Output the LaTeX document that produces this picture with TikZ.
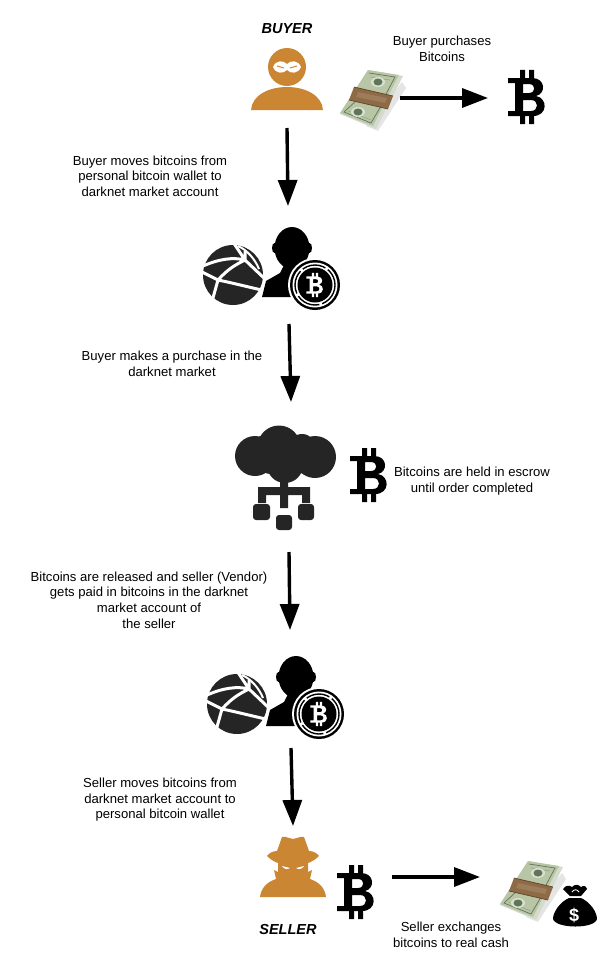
\documentclass[tikz,border=0pt]{standalone}
\usepackage{fontspec}
\setmainfont{Liberation Sans}
\usetikzlibrary{arrows.meta}

\definecolor{iconorange}{HTML}{CB8633}
\definecolor{icondark}{HTML}{252525}
\definecolor{billgreen}{HTML}{B9C6A6}
\definecolor{billdark}{HTML}{5F7458}
\definecolor{bandbrown}{HTML}{8E6A45}

\tikzset{
  caption/.style={align=center, inner sep=0pt, font=\fontsize{13.1}{15.6}\selectfont},
  rolename/.style={inner sep=0pt, font=\fontsize{14.5}{15}\selectfont\bfseries\itshape},
  flow/.style={line width=3.4pt, -{Triangle[length=26pt,width=19pt]}},
  btcmark/.pic={
    \path [pic actions, even odd rule] (-18,-19) -- (6,-19) .. controls (20,-19) and (20,-3) .. (10,-1)
      .. controls (22,1) and (22,19) .. (7,19) -- (-18,19) -- (-18,14) -- (-11,14) -- (-11,-14) -- (-18,-14) -- cycle
      (-3,-13) -- (3,-13) .. controls (10,-13) and (10,-4) .. (3,-4) -- (-3,-4) -- cycle
      (-3,3) -- (5,3) .. controls (13,3) and (13,14) .. (5,14) -- (-3,14) -- cycle;
    \path [pic actions] (-6,-27) rectangle (-1,-18) (3,-27) rectangle (8,-18) (-6,18) rectangle (-1,27) (3,18) rectangle (8,27);
  },
  cashstack/.pic={
    \fill [black!10] (-6,28) -- (30,-16) -- (34,-10) -- (6,33) -- cycle;
    \fill [black!8!billgreen!50!white] (-4,-28) -- (31,-22) -- (4,31) -- (-32,16) -- cycle;
    \fill [billgreen] (-4,-28) -- (27,-23) -- (1,28) -- (-32,15) -- cycle;
    \draw [billdark, line width=.7pt] (-3,-25) -- (23,-21) -- (14,-4) (-15,2) -- (-28,14) -- (-1,25) -- (9,8);
    \draw [billdark!70!white, line width=.5pt] (-1,-21) -- (18,-18) (-24,13) -- (-1,22);
    \fill [white!45!billgreen] (6,-16) ellipse (7 and 5) (-14,14) ellipse (7 and 5);
    \fill [billdark] (6,-16) ellipse (4.5 and 3.5) (-14,14) ellipse (4.5 and 3.5);
    \fill [bandbrown] (-18,-11) -- (21,-2) -- (16,11) -- (-23,2) -- cycle;
    \fill [bandbrown!88!white] (-14,-6) -- (15,0) -- (13,5) -- (-16,-1) -- cycle;
    \draw [black!35!bandbrown, line width=.7pt] (-18,-11) -- (21,-2) (16,11) -- (-23,2);
  },
  buyericon/.pic={
    \fill [iconorange] (0,-8) circle (19);
    \fill [iconorange] (-36,35) .. controls (-35,20) and (-18,12) .. (0,12) .. controls (18,12) and (35,20) .. (36,35) -- cycle;
    \fill [white] (-14,-8) .. controls (-11,-15) and (-4,-15) .. (0,-11) .. controls (4,-15) and (11,-15) .. (14,-8)
      .. controls (11,-1) and (4,-1) .. (0,-5) .. controls (-4,-1) and (-11,-1) .. (-14,-8) -- cycle;
    \draw [iconorange, line width=1pt] (-10,-9) -- (-3,-7) (3,-7) -- (10,-9);
  },
  sellericon/.pic={
    \fill [iconorange] (-16,-19) -- (-11,-33) .. controls (-6,-34) and (-4,-31) .. (0,-31) .. controls (4,-31) and (6,-34) .. (11,-33) -- (16,-19)
      .. controls (20,-19) and (24,-17) .. (26,-14) .. controls (22,-10) and (18,-8) .. (15,-7) -- (15,2) -- (19,0) -- (17,9)
      .. controls (26,12) and (32,18) .. (33,27) -- (-33,27) .. controls (-32,18) and (-26,12) .. (-17,9) -- (-19,0) -- (-15,2) -- (-15,-7)
      .. controls (-18,-8) and (-22,-10) .. (-26,-14) .. controls (-24,-17) and (-20,-19) .. (-16,-19) -- cycle;
    \fill [white] (-11,-4) -- (-3,-2) .. controls (-6,0) and (-9,-1) .. (-11,-4) -- cycle
      (11,-4) -- (3,-2) .. controls (6,0) and (9,-1) .. (11,-4) -- cycle;
  },
  marketicon/.pic={
    \fill [icondark] (0,0) circle (30);
    \draw [white, line width=3pt] (-15,5) .. controls (-5,-6) and (2,-10) .. (12,-15)
      (-15,5) -- (-33,-4) (-15,5) -- (-22,30) (-15,5) .. controls (0,8) and (15,12) .. (33,16)
      (12,-15) .. controls (0,-18) and (-14,-16) .. (-30,-9) (12,-15) -- (0,-33) (12,-15) -- (32,4)
      (12,-15) -- (12,-24);
    \draw [white, line width=2pt] (5,-29) .. controls (14,-25) and (22,-16) .. (26,-6);
    \fill [black] (29,22) -- (33,6) -- (47,-2) -- (51,-10) -- (67,-10) -- (72,-2) -- (85,6) -- (85,22) -- cycle;
    \fill [black] (59,-27) ellipse (17.5 and 21);
    \fill [black] (41.5,-27) ellipse (2.5 and 5) (76.5,-27) ellipse (2.5 and 5);
    \fill [white] (82,10) circle (27);
    \fill [black] (82,10) circle (25);
    \fill [white] (82,10) circle (22.5);
    \draw [black, line width=1.4pt, dash pattern=on 24pt off 3pt] (82,10) circle (20);
    \fill [black] (82,10) circle (17.5);
    \pic [fill=white, scale=.45] at (81.5,10) {btcmark};
  },
  cloudicon/.pic={
    \fill [icondark] (-3,-23) circle (21.5) (-27,-14) circle (20) (33,-13) circle (21) (20,-22) circle (14) (-20,-18) circle (16) (3,-5) circle (18) (-12,-8) circle (12) (16,-8) circle (12);
    \fill [icondark] (-2,5) rectangle (6,38) (-24,17) rectangle (28,25) (-24,17) rectangle (-16,33) (20,17) rectangle (28,33);
    \fill [icondark, rounded corners=3pt] (-29,34) rectangle (-12,50) (16,34) rectangle (32,50) (-6,45) rectangle (10,60);
  },
  bagicon/.pic={
    \fill [black] (-5,-12) -- (-12,-19) .. controls (-9,-23) and (-6,-23) .. (-3,-21) .. controls (0,-24) and (3,-24) .. (6,-21) .. controls (9,-23) and (11,-22) .. (12,-19) -- (6,-12) -- cycle;
    \fill [black] (-6,-10) -- (6,-10) .. controls (15,-6) and (22,4) .. (22,11) .. controls (20,21) and (-19,21) .. (-22,11) .. controls (-22,4) and (-15,-6) .. (-6,-10) -- cycle;
    \draw [white, line width=.8pt] (-3,-16) .. controls (-1,-19) and (2,-19) .. (4,-16);
  }
}

\begin{document}
\begin{tikzpicture}[x=1pt, y=-1pt]
\useasboundingbox (0,0) rectangle (611,958);

\node (buyerName) at (287,29) [rolename] {BUYER};
\pic at (287,75) {buyericon};
\pic at (372,98) {cashstack};
\pic [fill=black] at (526,97) {btcmark};
\node (buyText) at (442,49) [caption] {Buyer purchases\\Bitcoins};
\coordinate (buyS) at (400,98);
\coordinate (buyE) at (488,98);

\coordinate (depositS) at (287,128);
\coordinate (depositE) at (288,206);
\node (depositText) at (150,176) [caption] {Buyer moves bitcoins from\\personal bitcoin wallet to\\darknet market account};
\pic at (233,275) {marketicon};

\coordinate (orderS) at (289,324);
\coordinate (orderE) at (291,402);
\node (orderText) at (172,364) [caption] {Buyer makes a purchase in the\\darknet market};
\pic at (282,470) {cloudicon};
\pic [fill=black] at (368,475) {btcmark};
\node (escrowText) at (472,481) [caption] {Bitcoins are held in escrow\\until order completed};

\coordinate (releaseS) at (289,552);
\coordinate (releaseE) at (290,630);
\node (releaseText) at (149,600) [caption] {Bitcoins are released and seller (Vendor)\\gets paid in bitcoins in the darknet\\market account of\\the seller};
\pic at (237,704) {marketicon};

\coordinate (withdrawS) at (291,748);
\coordinate (withdrawE) at (293,826);
\node (withdrawText) at (160,800) [caption] {Seller moves bitcoins from\\darknet market account to\\personal bitcoin wallet};
\pic at (293,870) {sellericon};
\pic [fill=black] at (355,892) {btcmark};
\node (sellerName) at (288,929) [rolename] {SELLER};

\coordinate (cashS) at (392,877);
\coordinate (cashE) at (480,877);
\pic at (532,889) {cashstack};
\pic at (575,908) {bagicon};
\node (bagMark) at (574,915) [inner sep=0pt, text=white, font=\fontsize{18}{18}\selectfont\bfseries] {\$};
\node (cashText) at (451,935) [caption] {Seller exchanges\\bitcoins to real cash};

\draw [flow] (buyS) -- (buyE);
\draw [flow] (depositS) -- (depositE);
\draw [flow] (orderS) -- (orderE);
\draw [flow] (releaseS) -- (releaseE);
\draw [flow] (withdrawS) -- (withdrawE);
\draw [flow] (cashS) -- (cashE);
\end{tikzpicture}
\end{document}
